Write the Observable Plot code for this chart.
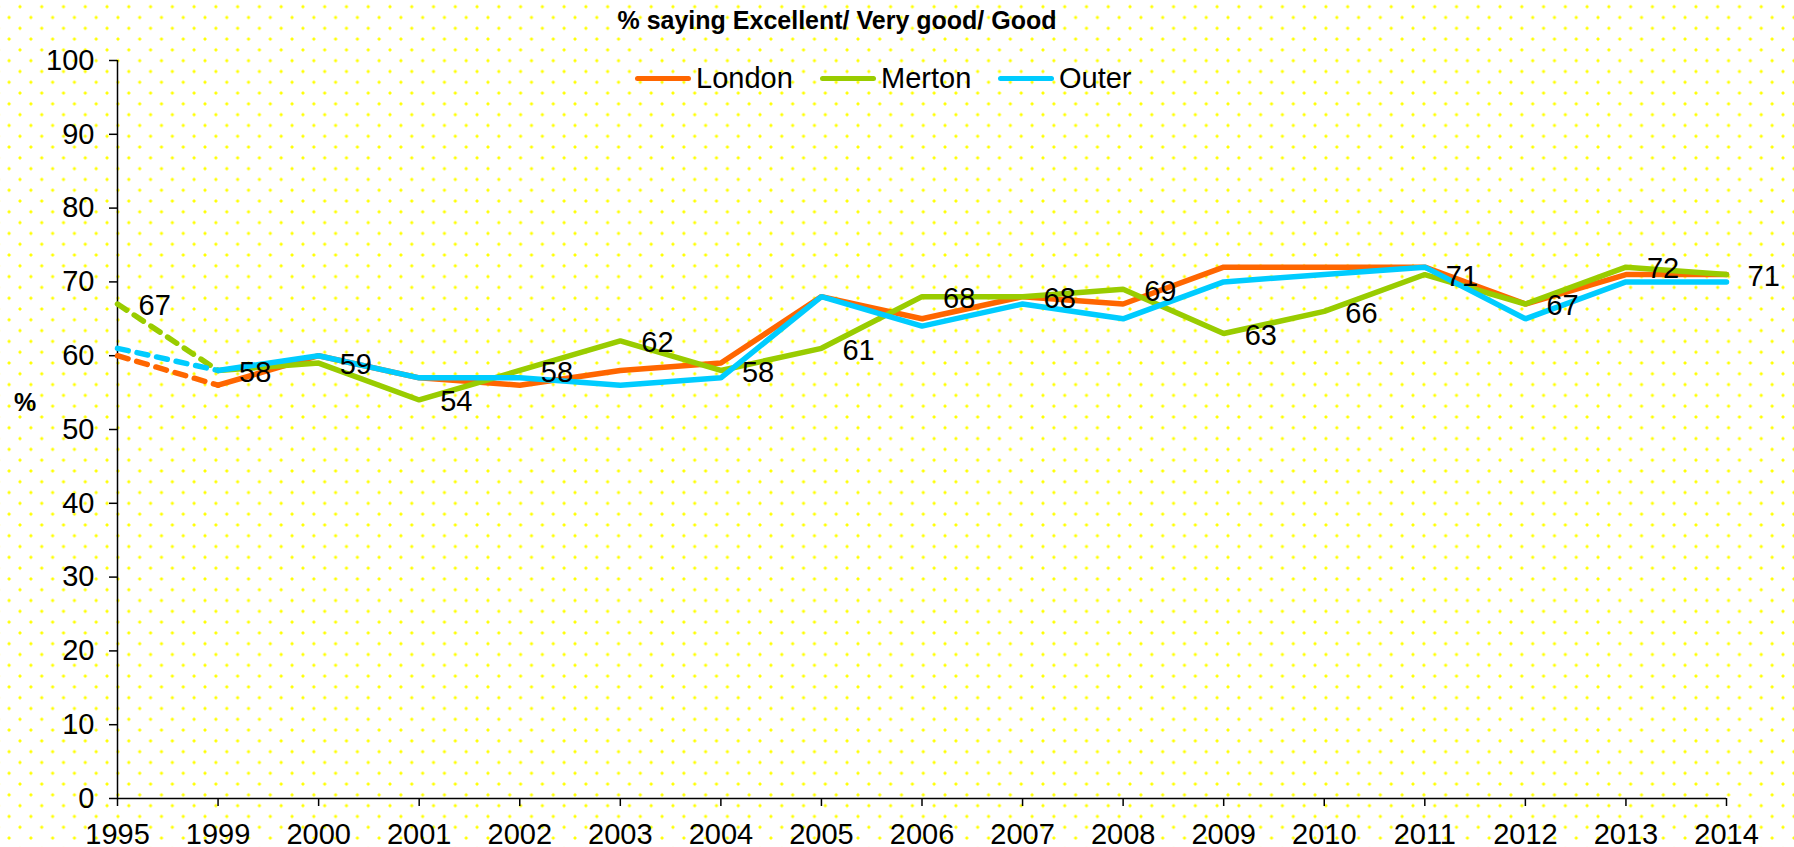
<!DOCTYPE html>
<html>
<head>
<meta charset="utf-8">
<script src="https://cdn.jsdelivr.net/npm/d3@7"></script>
<script src="https://cdn.jsdelivr.net/npm/@observablehq/plot@0.6"></script>
<style>
  html, body { margin: 0; padding: 0; }
  body {
    width: 1794px; height: 847px; overflow: hidden;
    background-color: #ffffff;
    background-image:
      radial-gradient(circle at center, #ffff00 1.3px, rgba(255,255,0,0) 1.8px),
      radial-gradient(circle at center, #ffff00 1.3px, rgba(255,255,0,0) 1.8px);
    background-size: 21.78px 21.6px, 21.78px 21.6px;
    background-position: 9.1px -4.1px, 20px 6.7px;
    font-family: "Liberation Sans", Arial, sans-serif;
  }
  #wrap { position: relative; width: 1794px; height: 847px; }
  #chart { position: absolute; left: 0; top: 0; }
  #title { position: absolute; left: 0; width: 1674px; top: 6px; text-align: center; white-space: nowrap;
           font-weight: bold; font-size: 25px; color: #000; }
  #ylabel { position: absolute; left: 14px; top: 388px; font-weight: bold; font-size: 25px; }
  .leg { position: absolute; top: 62px; font-size: 29px; color: #000; display: flex; align-items: center; white-space: nowrap; }
  .leg .sw { display: inline-block; width: 56px; height: 5.5px; border-radius: 3px; margin-right: 5px; }
</style>
</head>
<body>
<div id="wrap">
  <div id="chart"></div>
  <div id="title">% saying Excellent/ Very good/ Good</div>
  <div id="ylabel">%</div>
  <div id="legend"></div>
</div>
<script>
const years = ["1995","1999","2000","2001","2002","2003","2004","2005","2006","2007","2008","2009","2010","2011","2012","2013","2014"];
const london = [60,56,60,57,56,58,59,68,65,68,67,72,72,72,67,71,71];
const merton = [67,58,59,54,58,62,58,61,68,68,69,63,66,71,67,72,71];
const outer  = [61,58,60,57,57,56,57,68,64,67,65,70,71,72,65,70,70];
const seriesNames = ["London","Merton","Outer"];
const seriesColors = ["#FF6600","#99CC00","#00CCFF"];
const yTicks = [0,10,20,30,40,50,60,70,80,90,100];

const seriesValues = [london, merton, outer];
const rows = [];
seriesNames.forEach((s, si) => {
  years.forEach((y, i) => rows.push({series: s, year: y, value: seriesValues[si][i], idx: i}));
});
const solid = rows.filter(d => d.idx >= 1);
const dashed = rows.filter(d => d.idx <= 1);
const labels = rows.filter(d => d.series === "Merton");

const plot = Plot.plot({
  width: 1794,
  height: 847,
  marginLeft: 117,
  marginRight: 68,
  marginTop: 60,
  marginBottom: 49,
  style: { background: "transparent", fontFamily: "Liberation Sans, Arial, sans-serif", overflow: "visible" },
  x: { type: "point", domain: years, padding: 0, round: false },
  y: { domain: [0, 100] },
  color: { domain: seriesNames, range: seriesColors },
  marks: [
    Plot.axisX({ tickSize: 8, tickPadding: 17, fontSize: 29, label: null, stroke: "#000", strokeWidth: 1.5, color: "#000" }),
    Plot.axisY({ ticks: yTicks, tickSize: 8, tickPadding: 15, fontSize: 29, label: null, stroke: "#000", strokeWidth: 1.5, color: "#000" }),
    Plot.ruleY([0], { stroke: "#000", strokeWidth: 1.5 }),
    Plot.ruleX([years[0]], { y1: 0, y2: 100, stroke: "#000", strokeWidth: 1.5 }),
    Plot.line(dashed, { x: "year", y: "value", z: "series", stroke: "series", strokeWidth: 5.5,
      strokeDasharray: "11,9", strokeLinecap: "round" }),
    Plot.line(solid, { x: "year", y: "value", z: "series", stroke: "series", strokeWidth: 5.5,
      strokeLinejoin: "miter" }),
    Plot.text(labels, { x: "year", y: "value", text: d => String(d.value), textAnchor: "start",
      dx: 21, dy: 2, fontSize: 29, fill: "#000" })
  ]
});
document.getElementById("chart").appendChild(plot);

const legendPos = [635, 820, 998];
const leg = document.getElementById("legend");
seriesNames.forEach((s, i) => {
  const el = document.createElement("div");
  el.className = "leg";
  el.style.left = legendPos[i] + "px";
  el.innerHTML = `<span class="sw" style="background:${seriesColors[i]}"></span><span>${s}</span>`;
  leg.appendChild(el);
});
</script>
</body>
</html>
